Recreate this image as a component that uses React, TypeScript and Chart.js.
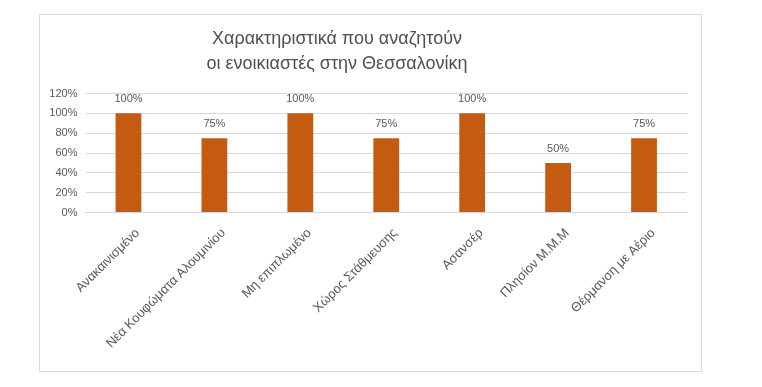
import React, { useEffect, useRef } from "react";
import { Chart, registerables } from "chart.js";

Chart.register(...registerables);

const categories = [
  "Ανακαινισμένο",
  "Νέα Κουφώματα Αλουμινίου",
  "Μη επιπλωμένο",
  "Χώρος Στάθμευσης",
  "Ασανσέρ",
  "Πλησίον Μ.Μ.Μ",
  "Θέρμανση με Αέριο",
];
const values = [100, 75, 100, 75, 100, 50, 75];
const yTicks = [0, 20, 40, 60, 80, 100, 120];
const titleLines = ["Χαρακτηριστικά που αναζητούν", "οι ενοικιαστές στην Θεσσαλονίκη"];

const GRAY = "#595959";
const FONT = "'Liberation Sans', Arial, sans-serif";

export default function App() {
  const ref = useRef<HTMLCanvasElement>(null);
  useEffect(() => {
    if (!ref.current) return;
    const titlePlugin = {
      id: "customTitle",
      afterDraw(chart: any) {
        const ctx = chart.ctx;
        ctx.save();
        ctx.fillStyle = "#505050";
        ctx.font = `18px ${FONT}`;
        ctx.textAlign = "center";
        ctx.textBaseline = "alphabetic";
        ctx.fillText(titleLines[0], 297, 29);
        ctx.fillText(titleLines[1], 297, 54);
        ctx.restore();
      },
    };
    const labelPlugin = {
      id: "dataLabels",
      afterDatasetsDraw(chart: any) {
        const ctx = chart.ctx;
        const meta = chart.getDatasetMeta(0);
        ctx.save();
        ctx.fillStyle = GRAY;
        ctx.font = `11px ${FONT}`;
        ctx.textAlign = "center";
        ctx.textBaseline = "alphabetic";
        meta.data.forEach((bar: any, i: number) => {
          ctx.fillText(values[i] + "%", bar.x, bar.y - 11);
        });
        ctx.restore();
      },
    };
    const chart = new Chart(ref.current, {
      type: "bar",
      data: {
        labels: categories,
        datasets: [
          {
            data: values,
            backgroundColor: "#C55A11",
            borderWidth: 0,
            categoryPercentage: 0.3,
            barPercentage: 1,
          },
        ],
      },
      options: {
        animation: false,
        responsive: false,
        maintainAspectRatio: false,
        layout: { padding: { top: 78.5, right: 14, left: 0, bottom: 0 } },
        plugins: {
          legend: { display: false },
          title: { display: false },
          tooltip: { enabled: false },
        },
        scales: {
          x: {
            grid: { display: false, drawTicks: false },
            border: { display: true, color: "#D9D9D9" },
            ticks: {
              color: GRAY,
              font: { family: FONT, size: 13 },
              maxRotation: 45,
              minRotation: 45,
              autoSkip: false,
              padding: 13,
              labelOffset: 9,
            },
            afterFit(scale: any) {
              scale.height = 158.5;
            },
          },
          y: {
            min: 0,
            max: 120,
            afterBuildTicks(scale: any) {
              scale.ticks = yTicks.map((v) => ({ value: v }));
            },
            grid: { color: "#D9D9D9", drawTicks: false },
            border: { display: false },
            ticks: {
              color: GRAY,
              font: { family: FONT, size: 11 },
              padding: 8,
              callback: (v: any) => v + "%",
            },
            afterFit(scale: any) {
              scale.width = 45.5;
            },
          },
        },
      },
      plugins: [titlePlugin, labelPlugin],
    });
    return () => chart.destroy();
  }, []);
  return (
    <div
      style={{
        position: "absolute",
        left: 39,
        top: 14,
        width: 663,
        height: 358,
        border: "1px solid #D9D9D9",
        boxSizing: "border-box",
        background: "#fff",
      }}
    >
      <canvas ref={ref} width={661} height={356} style={{ display: "block" }} />
    </div>
  );
}
